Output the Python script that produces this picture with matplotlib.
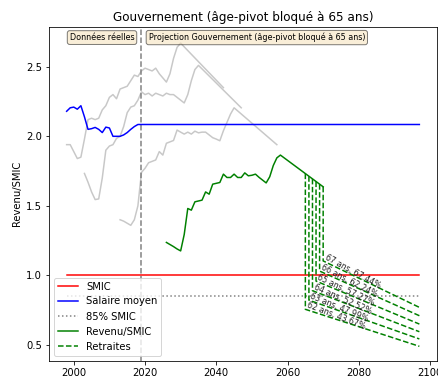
import matplotlib
matplotlib.use("Agg")
import matplotlib.pyplot as plt

# ---------------- data ----------------
hist_years = list(range(1998, 2020))
salaire_hist = [2.18, 2.205, 2.21, 2.195, 2.22, 2.14, 2.05, 2.055, 2.064, 2.05, 2.027,
                2.066, 2.06, 2.00, 2.00, 2.00, 2.01, 2.027, 2.05, 2.07, 2.085, 2.085]
proj_end_year = 2097
salaire_proj = 2.085

smic_years = [1998, 2097]
smic_vals = [1.0, 1.0]
smic85_vals = [0.85, 0.85]

g1_years = list(range(1998, 2031)) + [2042]
g1_vals = [1.94, 1.94, 1.89, 1.84, 1.85, 1.98, 2.12, 2.13, 2.12, 2.13, 2.19, 2.22, 2.28,
           2.30, 2.27, 2.34, 2.35, 2.36, 2.40, 2.44, 2.43, 2.47, 2.49, 2.48, 2.47, 2.49,
           2.45, 2.42, 2.39, 2.45, 2.56, 2.64, 2.67, 2.35]

g2_years = list(range(2003, 2036)) + [2047]
g2_vals = [1.733, 1.67, 1.60, 1.545, 1.55, 1.70, 1.90, 1.93, 1.94, 1.985, 2.00, 2.07,
           2.17, 2.21, 2.22, 2.26, 2.32, 2.30, 2.31, 2.29, 2.31, 2.30, 2.29, 2.31, 2.30,
           2.30, 2.28, 2.26, 2.24, 2.30, 2.40, 2.48, 2.51, 2.205]

g3_years = list(range(2013, 2046)) + [2057]
g3_vals = [1.40, 1.39, 1.375, 1.36, 1.40, 1.50, 1.74, 1.77, 1.81, 1.82, 1.83, 1.89, 1.865,
           1.95, 1.96, 1.97, 2.045, 2.03, 2.016, 2.03, 2.016, 2.037, 2.025, 2.03, 2.03,
           2.01, 1.99, 1.98, 1.968, 2.04, 2.10, 2.16, 2.205, 1.94]

rev_years = list(range(2026, 2059)) + [2070]
rev_vals = [1.237, 1.222, 1.207, 1.19, 1.176, 1.294, 1.481, 1.469, 1.529, 1.535, 1.541,
            1.60, 1.584, 1.656, 1.662, 1.668, 1.728, 1.704, 1.704, 1.728, 1.704, 1.704,
            1.737, 1.716, 1.72, 1.728, 1.705, 1.685, 1.665, 1.709, 1.79, 1.845, 1.865, 1.637]

ret_ages = [62, 63, 64, 65, 66, 67]
ret_rates = ["43.67%", "47.99%", "52.52%", "57.27%", "62.24%", "67.44%"]
ret_years = [2065, 2066, 2067, 2068, 2069, 2070]
ret_top = [1.732, 1.713, 1.694, 1.675, 1.656, 1.637]
ret_start = [0.756, 0.822, 0.890, 0.959, 1.031, 1.104]
ret_end = [0.49, 0.543, 0.595, 0.65, 0.71, 0.77]
ret_label_rot = [-21, -22.5, -24, -25.5, -27, -28.5]

# ---------------- figure ----------------
fig = plt.figure(figsize=(438 / 72, 376 / 72), dpi=72)
ax = fig.add_axes([49 / 438, 1 - 360.5 / 376, (437 - 49) / 438, (360.5 - 27) / 376])

gray = "#c8c8c8"
for yrs, vals in [(g1_years, g1_vals), (g2_years, g2_vals), (g3_years, g3_vals)]:
    ax.plot(yrs, vals, color=gray, lw=1.5, zorder=1)

ax.axvline(2019, color="gray", ls="--", lw=1.5, zorder=1)

l_smic, = ax.plot(smic_years, smic_vals, color="red", lw=1.5, label="SMIC", zorder=3)
sal_years = hist_years + [proj_end_year]
sal_vals = salaire_hist + [salaire_proj]
l_sal, = ax.plot(sal_years, sal_vals, color="blue", lw=1.5, label="Salaire moyen", zorder=3)
l_85, = ax.plot(smic_years, smic85_vals, color="gray", ls=":", lw=1.5, label="85% SMIC", zorder=2)
l_rev, = ax.plot(rev_years, rev_vals, color="green", lw=1.5, label="Revenu/SMIC", zorder=4)

l_ret = None
for age, rate, yr, top, st, en, rot in zip(ret_ages, ret_rates, ret_years, ret_top,
                                           ret_start, ret_end, ret_label_rot):
    ln, = ax.plot([yr, yr, proj_end_year], [top, st, en], color="green", ls="--", lw=1.5,
                  zorder=4)
    if l_ret is None:
        l_ret = ln
        ln.set_label("Retraites")
    ax.text(yr, st, f"{age} ans, {rate}", fontsize=8, rotation=rot, rotation_mode="anchor",
            ha="left", va="bottom", color="#222222", zorder=5)

box = dict(boxstyle="round", facecolor="wheat", alpha=0.5)
ax.text(2017, 2.71, "Données réelles", fontsize=8, ha="right", va="center", bbox=box)
ax.text(2021, 2.71, "Projection Gouvernement (âge-pivot bloqué à 65 ans)", fontsize=8,
        ha="left", va="center", bbox=box)

ax.set_xlim(1993.05, 2101.95)
ax.set_ylim(0.388, 2.786)
ax.set_xticks([2000, 2020, 2040, 2060, 2080, 2100])
ax.set_yticks([0.5, 1.0, 1.5, 2.0, 2.5])
ax.tick_params(labelsize=10)
ax.set_ylabel("Revenu/SMIC", fontsize=10)
ax.set_title("Gouvernement (âge-pivot bloqué à 65 ans)", fontsize=12)

ax.legend(handles=[l_smic, l_sal, l_85, l_rev, l_ret], loc="lower left", fontsize=10)

fig.savefig("out.png", dpi=72)
